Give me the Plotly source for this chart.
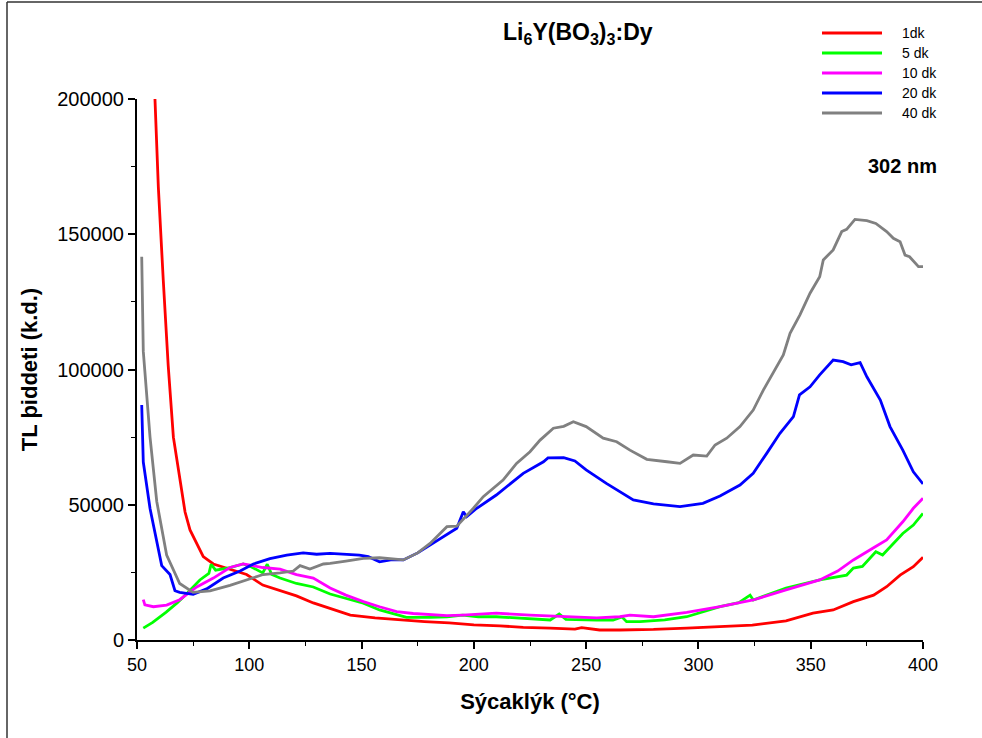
import plotly.graph_objects as go

# ---- data ----
t_1dk = [58.0, 59.5, 61.7, 63.9, 66.2, 69.1, 71.4, 73.6, 76.6, 79.5, 84.0, 91.4, 98.8, 106.0, 113.7, 121.0,
         128.5, 136.0, 145.0, 156.0, 167.0, 178.0, 189.0, 200.0, 211.6, 222.0, 234.0, 245.0, 248.0, 256.0,
         265.0, 280.0, 294.8, 310.0, 324.0, 339.0, 351.0, 360.0, 369.0, 378.0, 383.8, 389.8, 395.7, 400.0]
i_1dk = [200000, 167500, 133000, 101400, 75000, 59000, 47300, 40700, 35500, 30800, 28100, 26200, 24200, 20300,
         18200, 16300, 13700, 11600, 9200, 8200, 7400, 6800, 6300, 5600, 5200, 4700, 4400, 4000, 4600, 3700,
         3700, 3900, 4400, 4900, 5500, 7100, 9900, 11100, 14200, 16600, 19700, 24000, 27100, 30600]

t_5dk = [52.8, 57.0, 63.0, 68.0, 72.0, 78.0, 82.0, 83.0, 85.0, 91.4, 97.3, 101.0, 106.0, 108.0, 110.0, 113.7,
         121.0, 128.5, 136.0, 143.0, 150.8, 158.0, 164.0, 170.0, 180.5, 188.0, 195.0, 202.0, 210.0, 225.0,
         234.0, 238.0, 241.0, 254.7, 262.0, 266.0, 268.0, 274.0, 285.0, 294.8, 309.6, 318.0, 323.0, 324.4,
         339.0, 354.0, 366.0, 369.0, 373.0, 379.0, 382.0, 391.0, 395.7, 400.0]
i_5dk = [4400, 6500, 10300, 13800, 17000, 22200, 24600, 28000, 25800, 26800, 28100, 27000, 24800, 28000, 24200,
         22900, 20900, 19600, 17000, 15300, 13600, 11100, 9800, 8400, 8400, 8600, 9200, 8600, 8600, 8000,
         7400, 9600, 7600, 7400, 7400, 8500, 6800, 6800, 7400, 8600, 12300, 13800, 16600, 14800,
         19200, 22200, 24000, 26600, 27200, 32600, 31400, 39400, 42500, 46800]

t_10dk = [52.8, 53.5, 57.3, 63.2, 69.0, 76.6, 84.0, 91.4, 97.3, 101.0, 106.0, 113.7, 121.0, 128.5, 136.0,
          143.0, 150.8, 158.0, 165.6, 173.0, 180.5, 188.0, 195.0, 210.0, 225.0, 240.0, 254.7, 265.0, 269.5,
          280.0, 294.8, 309.6, 324.4, 339.0, 354.0, 362.0, 369.0, 377.8, 383.8, 391.0, 395.7, 400.0]
i_10dk = [14900, 13000, 12300, 12900, 14900, 19600, 22900, 26800, 28100, 27600, 26800, 26200, 24200, 22900, 19200,
          16600, 14200, 12300, 10500, 9800, 9500, 9000, 9200, 9900, 9200, 8600, 8200, 8600, 9200,
          8600, 10200, 12300, 14800, 18500, 22200, 25500, 29600, 34000, 37000, 43700, 48700, 52400]

t_20dk = [52.1, 52.8, 55.8, 58.8, 61.0, 64.7, 66.9, 69.0, 75.0, 81.0, 88.4, 95.9, 101.8, 109.2, 116.7, 124.0,
          130.0, 136.0, 142.0, 149.0, 153.0, 158.0, 163.0, 168.6, 175.0, 180.5, 188.0, 192.4, 195.3, 196.8,
          201.3, 210.0, 222.0, 231.0, 233.0, 240.0, 245.0, 250.0, 259.0, 266.5, 271.0, 280.0, 291.8, 302.0,
          309.6, 318.5, 324.4, 330.4, 336.3, 342.3, 345.0, 349.7, 354.0, 360.0, 364.4, 368.0, 372.0, 375.0,
          381.0, 385.3, 391.0, 395.7, 400.0]
i_20dk = [86900, 65800, 48600, 36700, 27500, 24200, 18200, 17600, 16900, 18900, 22900, 25500, 28100, 30100, 31400, 32200,
          31700, 32000, 31600, 31400, 30800, 28900, 29600, 29600, 32200, 35100, 38800, 41300, 47400, 45600,
          48700, 53600, 61600, 65900, 67300, 67400, 66200, 62900, 57900, 54200, 51800, 50300, 49300, 50500,
          53200, 57300, 61600, 69000, 76400, 82600, 90600, 93600, 98000, 103500, 102900, 101700, 102500, 97300,
          88700, 78900, 70200, 62200, 57700]

t_40dk = [52.1, 52.8, 55.8, 58.8, 63.2, 69.0, 75.0, 82.5, 91.4, 98.8, 106.2, 113.7, 119.6, 122.6, 127.0, 133.0,
          136.0, 143.0, 150.8, 158.0, 163.0, 168.6, 175.0, 180.5, 188.0, 192.4, 199.8, 204.2, 213.0, 219.0,
          225.0, 229.5, 235.4, 240.0, 244.3, 250.0, 257.6, 263.6, 269.5, 277.0, 286.0, 291.8, 297.7, 303.7,
          307.4, 312.6, 318.5, 324.4, 328.9, 333.3, 337.8, 340.8, 345.2, 349.7, 354.0, 355.6, 360.0, 363.8,
          366.0, 369.7, 375.0, 379.0, 383.8, 386.8, 389.8, 392.0, 394.0, 398.0, 400.0]
i_40dk = [141700, 106700, 75000, 51200, 31400, 20900, 17600, 18200, 20200, 22200, 24200, 24800, 25500, 27500, 26200, 28100,
          28300, 29200, 30200, 30400, 30000, 29600, 32200, 35700, 41900, 42100, 48700, 53000, 59100, 65300,
          69600, 73900, 78300, 79000, 80700, 78900, 74600, 73300, 70200, 66800, 65900, 65300, 68400, 68000,
          72100, 74600, 78900, 85000, 92400, 98600, 105400, 113400, 120200, 128200, 134300, 140500, 144200, 151000,
          151800, 155500, 155000, 154000, 151000, 148500, 147200, 142300, 141700, 138000, 138000]

names = ["1dk", "5 dk", "10 dk", "20 dk", "40 dk"]
colors = ["#ff0000", "#00ff00", "#ff00ff", "#0000ff", "#808080"]
series_t = [t_1dk, t_5dk, t_10dk, t_20dk, t_40dk]
series_i = [i_1dk, i_5dk, i_10dk, i_20dk, i_40dk]

# ---- pixel geometry helpers (plot area 137..923 x 99..640) ----
W, H = 982, 738
L, R, T, B = 137, 923, 99, 640
def px(x):
    return (x - L) / (R - L)
def py(y):
    return (B - y) / (B - T)

fig = go.Figure()
for t, i, n, c in zip(series_t, series_i, names, colors):
    fig.add_trace(go.Scatter(x=t, y=i, mode="lines", name=n, showlegend=False,
                             line=dict(color=c, width=2.8), cliponaxis=True))

shapes = []
annotations = []
# manual legend
for k, (n, c) in enumerate(zip(names, colors)):
    yy = 33 + 20 * k
    shapes.append(dict(type="line", xref="paper", yref="paper", x0=px(822), x1=px(882),
                       y0=py(yy), y1=py(yy), line=dict(color=c, width=3)))
    annotations.append(dict(xref="paper", yref="paper", x=px(900), y=py(yy), text=n, showarrow=False,
                            xanchor="left", yanchor="middle", font=dict(size=14, color="black")))

# frame (left and top lines)
shapes.append(dict(type="line", xref="paper", yref="paper", x0=px(7), x1=px(7), y0=py(2), y1=py(738),
                   line=dict(color="#333333", width=1.5)))
shapes.append(dict(type="line", xref="paper", yref="paper", x0=px(7), x1=px(982), y0=py(2), y1=py(2),
                   line=dict(color="#333333", width=1.5)))

annotations.append(dict(xref="paper", yref="paper", x=px(578), y=py(33),
                        text="<b>Li<sub>6</sub>Y(BO<sub>3</sub>)<sub>3</sub>:Dy</b>", showarrow=False,
                        xanchor="center", yanchor="middle", font=dict(size=23, color="black")))
annotations.append(dict(xref="paper", yref="paper", x=px(902), y=py(166), text="<b>302 nm</b>", showarrow=False,
                        xanchor="center", yanchor="middle", font=dict(size=20, color="black")))

fig.update_layout(
    width=W, height=H,
    margin=dict(l=L, r=W - R, t=T, b=H - B, pad=0),
    paper_bgcolor="white", plot_bgcolor="white",
    font=dict(family="Arial, Liberation Sans, sans-serif", color="black"),
    shapes=shapes, annotations=annotations,
    xaxis=dict(range=[50, 400], tickvals=[50, 100, 150, 200, 250, 300, 350, 400],
               showgrid=False, zeroline=False, showline=True, linecolor="black", linewidth=2,
               ticks="outside", ticklen=7, tickwidth=2, tickcolor="black",
               minor=dict(tickvals=[75, 125, 175, 225, 275, 325, 375], ticks="outside", ticklen=4,
                          tickwidth=1, tickcolor="black"),
               tickfont=dict(size=18),
               title=dict(text="<b>Sýcaklýk (°C)</b>", font=dict(size=22), standoff=20)),
    yaxis=dict(range=[0, 200000], tickvals=[0, 50000, 100000, 150000, 200000],
               ticktext=["0", "50000", "100000", "150000", "200000"],
               showgrid=False, zeroline=False, showline=True, linecolor="black", linewidth=2,
               ticks="outside", ticklen=7, tickwidth=2, tickcolor="black",
               minor=dict(tickvals=[25000, 75000, 125000, 175000], ticks="outside", ticklen=4,
                          tickwidth=1, tickcolor="black"),
               tickfont=dict(size=20),
               title=dict(text="<b>TL þiddeti (k.d.)</b>", font=dict(size=22), standoff=14)),
)

fig.write_html("out.html")
